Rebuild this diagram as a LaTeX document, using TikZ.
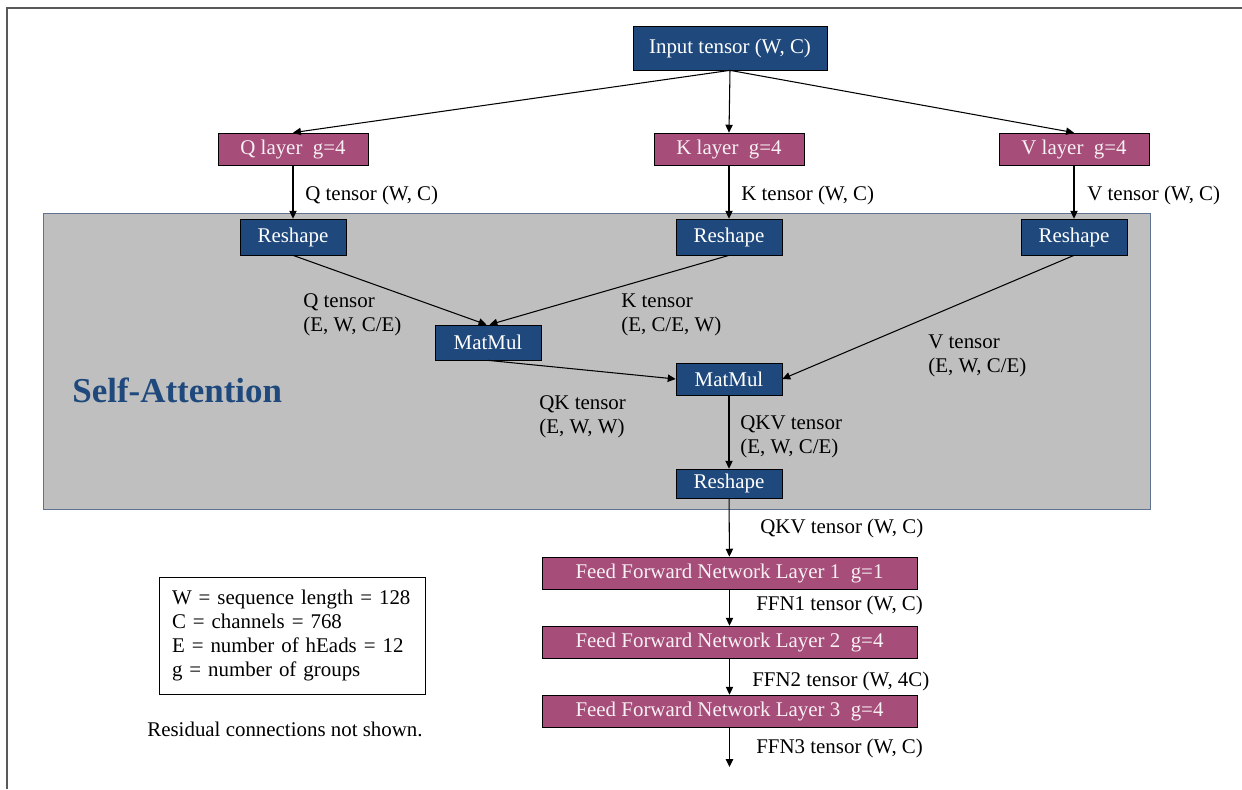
\documentclass[tikz,border=0pt]{standalone}
\usepackage{fontspec}
\setmainfont{Liberation Serif}
\usetikzlibrary{arrows.meta}

\definecolor{navy}{HTML}{1F497D}
\definecolor{plum}{HTML}{A64D79}
\definecolor{attngray}{HTML}{BFBFBF}
\definecolor{attnedge}{HTML}{5F7390}

\tikzset{
    blk/.style={draw=black, fill=navy, text=white, minimum width=2.12cm, minimum height=0.66cm, inner sep=1pt},
    lay/.style={draw=black, fill=plum, text=white!92!plum, minimum width=3cm, minimum height=0.64cm, inner sep=1pt},
    ffn/.style={lay, minimum width=7.5cm},
    arr/.style={-{Triangle[length=4.5pt,width=4.2pt]}, semithick},
    lbl/.style={anchor=west, inner sep=0pt, align=left},
}

\begin{document}
\begin{tikzpicture}[x=0.02cm, y=-0.02cm, font=\fontsize{11.9}{13.6}\selectfont]
    \useasboundingbox (0,0) rectangle (1242,789);
    % frame
    \draw[gray!70!black, thick] (7,789) -- (7,8) -- (1242,8);

    % self-attention region
    \draw[fill=attngray, draw=attnedge] (43,213) rectangle (1150,509);
    \node[lbl, text=navy, font=\fontsize{19.9}{22}\selectfont\bfseries] (satitle) at (72,390) {Self-Attention};

    % input and Q/K/V layers
    \node[blk, minimum width=3.88cm, minimum height=0.88cm] (input) at (730,48) {Input tensor (W, C)};
    \node[lay] (qlayer) at (293,149) {Q layer\ \ g=4};
    \node[lay] (klayer) at (729,149) {K layer\ \ g=4};
    \node[lay] (vlayer) at (1074,149) {V layer\ \ g=4};

    % attention blocks
    \node[blk, minimum height=0.72cm] (qreshape) at (293,237) {Reshape};
    \node[blk, minimum height=0.72cm] (kreshape) at (729,237) {Reshape};
    \node[blk, minimum height=0.72cm] (vreshape) at (1074,237) {Reshape};
    \node[blk, minimum height=0.7cm] (qkmul) at (488,342.5) {MatMul};
    \node[blk, minimum height=0.64cm] (qkvmul) at (729,379) {MatMul};
    \node[blk, minimum height=0.58cm] (outreshape) at (729,483.5) {Reshape};

    % feed forward layers
    \node[ffn] (ffna) at (729.5,573) {Feed Forward Network Layer 1\ \ g=1};
    \node[ffn] (ffnb) at (729.5,642) {Feed Forward Network Layer 2\ \ g=4};
    \node[ffn] (ffnc) at (729.5,711) {Feed Forward Network Layer 3\ \ g=4};
    \coordinate (outend) at (729.5,767);

    % connectors
    \draw[arr] (input.south) -- (qlayer.north);
    \draw[arr] (input.south) -- (klayer.north);
    \draw[arr] (input.south) -- (vlayer.north);
    \draw[arr] (qlayer) -- (qreshape);
    \draw[arr] (klayer) -- (kreshape);
    \draw[arr] (vlayer) -- (vreshape);
    \draw[arr] (qreshape.south) -- ([xshift=-0.03cm]qkmul.north);
    \draw[arr] (kreshape.south) -- ([xshift=0.03cm]qkmul.north);
    \draw[arr] (qkmul.south) -- (qkvmul.west);
    \draw[arr] (vreshape.south) -- (qkvmul.east);
    \draw[arr] (qkvmul) -- (outreshape);
    \draw[arr] (outreshape) -- (ffna);
    \draw[arr] (ffna) -- (ffnb);
    \draw[arr] (ffnb) -- (ffnc);
    \draw[arr] (ffnc) -- (outend);

    % tensor labels
    \node[lbl] (qtens) at (305,195) {Q tensor (W, C)};
    \node[lbl] (ktens) at (741,195) {K tensor (W, C)};
    \node[lbl] (vtens) at (1087,195) {V tensor (W, C)};
    \node[lbl] (qhead) at (303,315) {Q tensor\\(E, W, C/E)};
    \node[lbl] (khead) at (621,315) {K tensor\\(E, C/E, W)};
    \node[lbl] (vhead) at (928,356) {V tensor\\(E, W, C/E)};
    \node[lbl] (qkhead) at (539,416.5) {QK tensor\\(E, W, W)};
    \node[lbl] (qkvhead) at (740,437) {QKV tensor\\(E, W, C/E)};
    \node[lbl] (qkvtens) at (760,528) {QKV tensor (W, C)};
    \node[lbl] (ffnatens) at (756,605) {FFN1 tensor (W, C)};
    \node[lbl] (ffnbtens) at (752,681) {FFN2 tensor (W, 4C)};
    \node[lbl] (ffnctens) at (756,748) {FFN3 tensor (W, C)};

    % legend
    \node[draw, align=left, inner xsep=0.26cm, text width=4.8cm, minimum height=2.34cm] (legend) at (292,635.5)
        {W = sequence length = 128\\C = channels = 768\\E = number of hEads = 12\\g = number of groups};
    \node (note) at (285,729) {Residual connections not shown.};
\end{tikzpicture}
\end{document}
